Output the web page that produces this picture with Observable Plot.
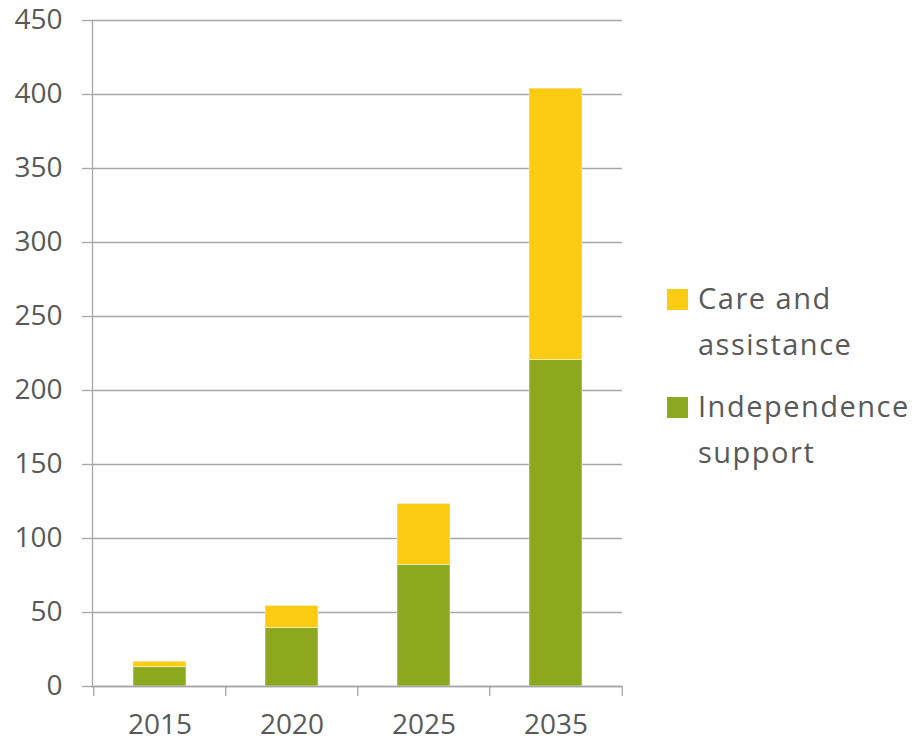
<!DOCTYPE html>
<html>
<head>
<meta charset="utf-8">
<script src="https://cdn.jsdelivr.net/npm/d3@7"></script>
<script src="https://cdn.jsdelivr.net/npm/@observablehq/plot@0.6"></script>
<style>
  html, body { margin: 0; padding: 0; background: #fff; }
  #wrap { position: relative; width: 920px; height: 741px; font-family: "Open Sans", sans-serif; }
  .leg { position: absolute; left: 667px; font-size: 29px; line-height: 46px; color: #595959; letter-spacing: 1.5px; }
  .leg .sw { position: absolute; left: 0; top: 14px; width: 21px; height: 21px; }
  .leg .tx { margin-left: 31px; }
</style>
</head>
<body>
<div id="wrap"></div>
<script>
const years = ["2015", "2020", "2025", "2035"];
const independenceSupport = [13, 39.5, 82.2, 220.5];
const careAndAssistance = [3.8, 15, 41.2, 183.5];
const seriesNames = ["Independence support", "Care and assistance"];
const seriesColors = ["#8BA81F", "#FBCC12"];
const yTicks = [0, 50, 100, 150, 200, 250, 300, 350, 400, 450];

const rows = [];
years.forEach((y, i) => {
  rows.push({year: y, series: seriesNames[0], value: independenceSupport[i]});
  rows.push({year: y, series: seriesNames[1], value: careAndAssistance[i]});
});

const W = 920, H = 741, mL = 92, mR = 298, mT = 20, mB = 55;
const halfStep = (W - mL - mR) / years.length / 2;
const gray = "#A6A6A6";
const textColor = "#595959";

const chart = Plot.plot({
  width: W, height: H,
  marginLeft: mL, marginRight: mR, marginTop: mT, marginBottom: mB,
  style: {fontFamily: "Open Sans, sans-serif", fontSize: "28px", color: textColor, background: "white"},
  x: {domain: years, paddingInner: 0.6, paddingOuter: 0.3, align: 0.5, label: null},
  y: {domain: [0, 450], ticks: yTicks, label: null},
  color: {domain: seriesNames, range: seriesColors},
  marks: [
    Plot.gridY(yTicks, {stroke: gray, strokeOpacity: 1, strokeWidth: 1.3}),
    Plot.axisY(yTicks, {tickSize: 10, tickPadding: 20, stroke: gray, strokeWidth: 1.3, fill: textColor, fontSize: 28, label: null}),
    Plot.frame({anchor: "left", stroke: gray, strokeWidth: 1.3}),
    Plot.barY(rows, Plot.stackY({x: "year", y: "value", fill: "series", order: seriesNames, stroke: "#f4f4e8", strokeWidth: 0.6})),
    Plot.ruleY([0], {stroke: gray, strokeWidth: 1.3}),
    Plot.axisX(years, {tickSize: 10, dx: -halfStep, text: null, stroke: gray, strokeWidth: 1.3, label: null}),
    Plot.axisX([years[years.length - 1]], {tickSize: 10, dx: halfStep, text: null, stroke: gray, strokeWidth: 1.3, label: null}),
    Plot.axisX(years, {tickSize: 0, tickPadding: 28, fill: textColor, fontSize: 28, label: null})
  ]
});

const wrap = document.getElementById("wrap");
wrap.appendChild(chart);

const legendItems = [
  {name: seriesNames[1], color: seriesColors[1], lines: ["Care and", "assistance"], top: 275},
  {name: seriesNames[0], color: seriesColors[0], lines: ["Independence", "support"], top: 383}
];
for (const it of legendItems) {
  const d = document.createElement("div");
  d.className = "leg";
  d.style.top = it.top + "px";
  d.innerHTML = `<div class="sw" style="background:${it.color}"></div><div class="tx">${it.lines.join("<br>")}</div>`;
  wrap.appendChild(d);
}
</script>
</body>
</html>
